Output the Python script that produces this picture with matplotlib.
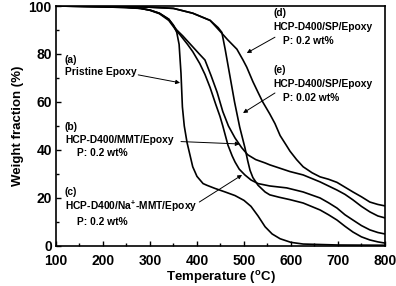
import matplotlib
matplotlib.use("Agg")
import matplotlib.pyplot as plt
import numpy as np

plt.rcParams['font.family'] = 'Liberation Sans'
plt.rcParams['font.weight'] = 'bold'
plt.rcParams['mathtext.fontset'] = 'custom'
plt.rcParams['mathtext.rm'] = 'Liberation Sans:bold'
plt.rcParams['mathtext.bf'] = 'Liberation Sans:bold'
plt.rcParams['mathtext.default'] = 'bf'

# (a) pristine epoxy
t_a = [100, 200, 280, 300, 320, 340, 350, 357, 362, 366, 369, 373, 379, 385, 391, 400, 413, 421, 438,
       460, 481, 500, 515, 530, 545, 560, 577, 600, 626, 700, 800]
w_a = [100, 99.7, 99, 98.3, 97, 94.5, 92, 89, 84, 72, 58, 50, 43, 38, 33, 29, 26, 25.3, 24,
       22.5, 21, 19, 16.5, 12.5, 8, 5, 3, 1.5, 0.8, 0.4, 0.3]

# (b) HCP-D400/MMT/Epoxy
t_b = [100, 250, 280, 300, 320, 340, 357, 370, 391, 405, 417, 430, 443, 455, 467, 481, 495, 508, 525,
       545, 555, 598, 626, 662, 698, 715, 732, 750, 768, 785, 800]
w_b = [100, 99.5, 99, 98.3, 97, 94.5, 90, 87.5, 83, 80, 77.5, 71, 64, 56, 50, 45, 41, 38, 36,
       34.6, 33.8, 31, 29.6, 26.7, 23.3, 21.5, 19.2, 16.5, 14.2, 12.5, 11.7]

# (c) HCP-D400/Na+-MMT/Epoxy
t_c = [100, 250, 280, 300, 320, 340, 357, 364, 380, 391, 406, 417, 428, 440, 449, 455, 466, 475, 481,
       490, 502, 515, 530, 555, 591, 626, 662, 680, 698, 715, 732, 750, 768, 785, 800]
w_c = [100, 99.5, 99, 98.2, 96.8, 94, 89.5, 88, 84, 81, 76, 71.5, 66, 59, 54, 50, 42, 37.5, 35,
       32, 29.6, 27.5, 26, 25, 24.2, 22.5, 20, 18, 15.8, 13, 10.8, 8.5, 6.7, 5.6, 5]

# (d) HCP-D400/SP/Epoxy, P 0.2 wt%
t_d = [100, 250, 300, 350, 391, 428, 449, 465, 485, 498, 506, 519, 530, 540, 555, 566, 577, 590, 598,
       612, 626, 645, 662, 680, 698, 715, 732, 750, 768, 785, 800]
w_d = [100, 99.8, 99.5, 99, 97, 94, 89.5, 86, 82, 77.5, 74.5, 68.5, 64, 60, 55, 51, 46, 42, 39.5,
       36, 33, 30.5, 28.8, 27.8, 26.5, 24.5, 22.5, 20.5, 18.3, 17.3, 16.7]

# (e) HCP-D400/SP/Epoxy, P 0.02 wt%
t_e = [100, 250, 300, 350, 391, 428, 445, 453, 460, 470, 480, 491, 502, 508, 513, 519, 530, 545, 555,
       575, 598, 626, 662, 680, 698, 715, 732, 750, 768, 785, 800]
w_e = [100, 99.8, 99.5, 99, 97, 94, 91, 89, 82, 71, 60, 49.5, 41, 35.5, 31.5, 28.5, 25.3, 22.5, 21.3,
       20.3, 19.3, 17.9, 15, 13, 10.8, 8.2, 5.8, 3.8, 2.5, 1.7, 1.2]

fig = plt.figure(figsize=(3.96, 2.86), dpi=100)
ax = fig.add_axes([0.1414, 0.140, 0.8306, 0.839])

for t, w in [(t_a, w_a), (t_b, w_b), (t_c, w_c), (t_d, w_d), (t_e, w_e)]:
    ax.plot(t, w, color='black', lw=1.2, solid_joinstyle='round')

ax.set_xlim(100, 800)
ax.set_ylim(0, 100)
ax.set_xticks(np.arange(100, 801, 100))
ax.set_yticks(np.arange(0, 101, 20))
ax.set_xticks(np.arange(150, 800, 100), minor=True)
ax.set_yticks(np.arange(10, 100, 20), minor=True)
ax.tick_params(which='both', direction='in', top=False, right=False, labelsize=10, width=1.0)
ax.tick_params(which='major', length=3.5)
ax.tick_params(axis='x', which='major', pad=5.5)
ax.tick_params(axis='y', which='major', pad=3)
ax.tick_params(which='minor', length=2)
for s in ax.spines.values():
    s.set_linewidth(1.2)

ax.set_xlabel(r'Temperature ($^{o}$C)', fontsize=9.5, fontweight='bold', labelpad=1)
ax.set_ylabel('Weight fraction (%)', fontsize=9.5, fontweight='bold', labelpad=3)

fs = 7.4
ap = dict(arrowstyle='-|>', color='black', lw=0.7, mutation_scale=6, shrinkA=0, shrinkB=0)

ax.text(119, 77.5, '(a)', fontsize=fs, va='center')
ax.text(119, 72.5, 'Pristine Epoxy', fontsize=fs, va='center')
ax.annotate('', xy=(364, 68), xytext=(275, 71.3), arrowprops=ap)

ax.text(119, 49.6, '(b)', fontsize=fs, va='center')
ax.text(119, 44.2, 'HCP-D400/MMT/Epoxy', fontsize=fs, va='center')
ax.text(145, 38.8, 'P: 0.2 wt%', fontsize=fs, va='center')
ax.annotate('', xy=(491, 42.5), xytext=(366, 43.5), arrowprops=ap)

ax.text(119, 22.5, '(c)', fontsize=fs, va='center')
ax.text(119, 16.7, r'HCP-D400/Na$^{+}$-MMT/Epoxy', fontsize=fs, va='center')
ax.text(145, 10, 'P: 0.2 wt%', fontsize=fs, va='center')
ax.annotate('', xy=(496, 29.6), xytext=(405, 18.3), arrowprops=ap)

ax.text(562, 97, '(d)', fontsize=fs, va='center')
ax.text(562, 91.25, 'HCP-D400/SP/Epoxy', fontsize=fs, va='center')
ax.text(583, 85.4, 'P: 0.2 wt%', fontsize=fs, va='center')
ax.annotate('', xy=(506, 80.4), xytext=(566, 87), arrowprops=ap)

ax.text(562, 73.3, '(e)', fontsize=fs, va='center')
ax.text(562, 67.5, 'HCP-D400/SP/Epoxy', fontsize=fs, va='center')
ax.text(583, 61.7, 'P: 0.02 wt%', fontsize=fs, va='center')
ax.annotate('', xy=(498, 55.4), xytext=(566, 63.75), arrowprops=ap)

fig.savefig('out.png', dpi=100)
